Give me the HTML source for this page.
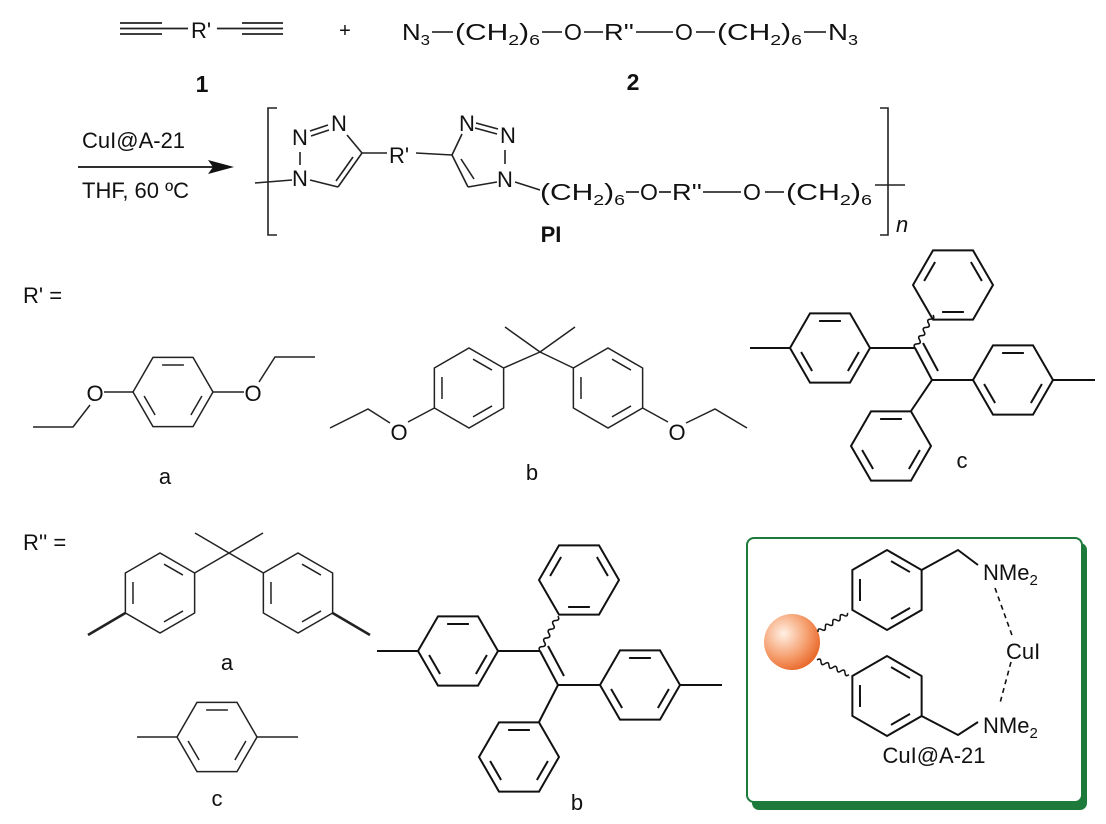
<!DOCTYPE html>
<html><head><meta charset="utf-8"><style>
html,body{margin:0;padding:0;background:#fff;}
svg{display:block;}
text{font-family:"Liberation Sans",sans-serif;fill:#111;}
</style></head><body>
<svg width="1106" height="824" viewBox="0 0 1106 824" xmlns="http://www.w3.org/2000/svg">
<defs>
<g id="hx" fill="none" stroke="#222" stroke-width="1.5">
<polygon points="-40,0 -20,-34.6 20,-34.6 40,0 20,34.6 -20,34.6"/>
<line x1="-10.9" y1="-27" x2="10.9" y2="-27"/>
<line x1="-17.9" y1="23" x2="-28.9" y2="4"/>
<line x1="17.9" y1="23" x2="28.9" y2="4"/>
</g>
<g id="hxb" fill="none" stroke="#111" stroke-width="2">
<polygon points="-40,0 -20,-34.6 20,-34.6 40,0 20,34.6 -20,34.6"/>
<line x1="-10.9" y1="-27" x2="10.9" y2="-27"/>
<line x1="-17.9" y1="23" x2="-28.9" y2="4"/>
<line x1="17.9" y1="23" x2="28.9" y2="4"/>
</g>
<path id="wv" d="M0,0 q2.5,-4 5,0 t5,0 t5,0 t5,0 t5,0 t5,0 t5,0 t5,0" fill="none" stroke="#111" stroke-width="1.6"/>
<radialGradient id="sg" cx="0.35" cy="0.35" r="0.7">
<stop offset="0" stop-color="#fff0e4"/><stop offset="0.6" stop-color="#f6a070"/><stop offset="1" stop-color="#e8682a"/>
</radialGradient>
</defs>

<!-- Row 1 -->
<g stroke="#222" stroke-width="1.8">
<line x1="120" y1="23" x2="162" y2="23"/><line x1="120" y1="28.5" x2="188" y2="28.5"/><line x1="120" y1="34" x2="162" y2="34"/>
<line x1="242" y1="23" x2="283" y2="23"/><line x1="217" y1="28.5" x2="283" y2="28.5"/><line x1="242" y1="34" x2="283" y2="34"/>
</g>
<text x="191" y="38" font-size="22">R'</text>
<text x="345" y="37" font-size="20" text-anchor="middle">+</text>

<g font-size="23">
<text x="402" y="40" textLength="28" lengthAdjust="spacingAndGlyphs">N<tspan font-size="15" dy="5">3</tspan></text>
<text x="455" y="40" textLength="85" lengthAdjust="spacingAndGlyphs">(CH<tspan font-size="15" dy="5">2</tspan><tspan dy="-5">)</tspan><tspan font-size="15" dy="5">6</tspan></text>
<text x="564" y="40">O</text>
<text x="604" y="40" textLength="30" lengthAdjust="spacingAndGlyphs">R''</text>
<text x="675" y="40">O</text>
<text x="717" y="40" textLength="85" lengthAdjust="spacingAndGlyphs">(CH<tspan font-size="15" dy="5">2</tspan><tspan dy="-5">)</tspan><tspan font-size="15" dy="5">6</tspan></text>
<text x="828" y="40" textLength="30" lengthAdjust="spacingAndGlyphs">N<tspan font-size="15" dy="5">3</tspan></text>
</g>
<g stroke="#111" stroke-width="1.6">
<line x1="432" y1="32" x2="453" y2="32"/>
<line x1="542" y1="32" x2="562" y2="32"/>
<line x1="584" y1="32" x2="603" y2="32"/>
<line x1="636" y1="32" x2="673" y2="32"/>
<line x1="696" y1="32" x2="715" y2="32"/>
<line x1="804" y1="32" x2="826" y2="32"/>
</g>
<text x="202" y="92" font-size="23" font-weight="bold" text-anchor="middle">1</text>
<text x="633" y="90" font-size="23" font-weight="bold" text-anchor="middle">2</text>

<!-- Arrow -->
<text x="82" y="148" font-size="22">CuI@A-21</text>
<line x1="78" y1="167" x2="214" y2="167" stroke="#111" stroke-width="1.8"/>
<polygon points="234,167 208,160 213,167 208,174" fill="#111"/>
<text x="82" y="198" font-size="22">THF, 60 ºC</text>

<!-- Polymer -->
<g stroke="#222" stroke-width="1.6" fill="none">
<polyline points="277,108 268,108 268,235 277,235"/>
<polyline points="880,108 888,108 888,235 880,235"/>
<line x1="255" y1="183" x2="292" y2="180"/>
<line x1="875" y1="185" x2="905" y2="185"/>
<line x1="300" y1="152" x2="300" y2="165"/>
<line x1="310" y1="131" x2="328" y2="125"/><line x1="311" y1="136" x2="329" y2="130"/>
<line x1="347" y1="135" x2="362" y2="153"/>
<line x1="362" y1="153" x2="338" y2="187"/><line x1="353" y1="157" x2="336" y2="181"/>
<line x1="338" y1="187" x2="310" y2="180"/>
<line x1="362" y1="153" x2="387" y2="153"/>
<line x1="416" y1="153" x2="452" y2="155"/>
<line x1="452" y1="155" x2="462" y2="134"/>
<line x1="476" y1="123" x2="498" y2="129"/><line x1="475" y1="128" x2="497" y2="134"/>
<line x1="505" y1="150" x2="505" y2="164"/>
<line x1="497" y1="182" x2="468" y2="187"/>
<line x1="468" y1="187" x2="452" y2="155"/><line x1="474" y1="179" x2="461" y2="159"/>
<line x1="515" y1="182" x2="540" y2="190"/>
</g>
<g font-size="22" text-anchor="middle">
<text x="300" y="186">N</text><text x="300" y="145">N</text><text x="339" y="131">N</text>
<text x="467" y="131">N</text><text x="508" y="143">N</text><text x="505" y="187">N</text>
</g>
<text x="389" y="163" font-size="22">R'</text>
<g font-size="23">
<text x="540" y="200" textLength="85" lengthAdjust="spacingAndGlyphs">(CH<tspan font-size="15" dy="5">2</tspan><tspan dy="-5">)</tspan><tspan font-size="15" dy="5">6</tspan></text>
<text x="640" y="200">O</text>
<text x="672" y="200" textLength="30" lengthAdjust="spacingAndGlyphs">R''</text>
<text x="743" y="200">O</text>
<text x="786" y="200" textLength="86" lengthAdjust="spacingAndGlyphs">(CH<tspan font-size="15" dy="5">2</tspan><tspan dy="-5">)</tspan><tspan font-size="15" dy="5">6</tspan></text>
</g>
<g stroke="#111" stroke-width="1.6">
<line x1="626" y1="192" x2="639" y2="192"/>
<line x1="659" y1="192" x2="671" y2="192"/>
<line x1="703" y1="192" x2="741" y2="192"/>
<line x1="765" y1="192" x2="784" y2="192"/>
</g>
<text x="896" y="232" font-size="22" font-style="italic">n</text>
<text x="551" y="242" font-size="22" font-weight="bold" text-anchor="middle">PI</text>

<!-- R' = -->
<text x="23" y="303" font-size="22">R' =</text>
<use href="#hx" transform="translate(173,392)"/>
<g stroke="#222" stroke-width="1.5" fill="none">
<line x1="133" y1="392" x2="104" y2="392"/>
<polyline points="90,405 73,427 33,427"/>
<line x1="213" y1="392" x2="244" y2="392"/>
<polyline points="259,382 275,357 315,357"/>
</g>
<text x="95" y="401" font-size="22" text-anchor="middle">O</text>
<text x="253" y="401" font-size="22" text-anchor="middle">O</text>
<text x="165" y="484" font-size="22" text-anchor="middle">a</text>

<use href="#hx" transform="translate(469,388) rotate(30)"/>
<use href="#hx" transform="translate(608,388) rotate(30)"/>
<g stroke="#222" stroke-width="1.5" fill="none">
<line x1="540" y1="352" x2="505" y2="327"/><line x1="540" y1="352" x2="575" y2="327"/>
<line x1="540" y1="352" x2="503.6" y2="368"/><line x1="540" y1="352" x2="573.4" y2="368"/>
<line x1="434.4" y1="408" x2="408" y2="422"/>
<polyline points="390,423 368,409 330,428"/>
<line x1="642.6" y1="408" x2="668" y2="422"/>
<polyline points="686,423 715,409 747,428"/>
</g>
<text x="399" y="440" font-size="22" text-anchor="middle">O</text>
<text x="677" y="440" font-size="22" text-anchor="middle">O</text>
<text x="532" y="480" font-size="22" text-anchor="middle">b</text>

<use href="#hxb" transform="translate(830,348)"/>
<use href="#hxb" transform="translate(1013,380)"/>
<use href="#hxb" transform="translate(953,285) rotate(180)"/>
<use href="#hxb" transform="translate(891,446)"/>
<g stroke="#111" stroke-width="2" fill="none">
<line x1="750" y1="348" x2="790" y2="348"/>
<line x1="870" y1="348" x2="915" y2="348"/>
<line x1="915" y1="348" x2="932" y2="380"/><line x1="923" y1="343" x2="938" y2="371"/>
<line x1="932" y1="380" x2="973" y2="380"/>
<line x1="1053" y1="380" x2="1095" y2="380"/>
<line x1="932" y1="380" x2="911" y2="411"/>
</g>
<use href="#wv" transform="translate(915,348) rotate(-61.4) scale(0.94,1)"/>
<text x="962" y="468" font-size="22" text-anchor="middle">c</text>

<!-- R'' = -->
<text x="23" y="550" font-size="22">R'' =</text>
<use href="#hx" transform="translate(160,593) rotate(30)"/>
<use href="#hx" transform="translate(298,593) rotate(30)"/>
<g stroke="#222" stroke-width="1.5" fill="none">
<line x1="229" y1="553" x2="195" y2="533"/><line x1="229" y1="553" x2="263" y2="533"/>
<line x1="229" y1="553" x2="194.6" y2="573"/><line x1="229" y1="553" x2="263.4" y2="573"/>
<line x1="125.4" y1="613" x2="88" y2="635" stroke-width="2.6"/>
<line x1="332.6" y1="613" x2="370" y2="635" stroke-width="2.6"/>
</g>
<text x="227" y="670" font-size="22" text-anchor="middle">a</text>
<use href="#hx" transform="translate(217,737)"/>
<g stroke="#222" stroke-width="1.5"><line x1="137" y1="737" x2="177" y2="737"/><line x1="257" y1="737" x2="298" y2="737"/></g>
<text x="217" y="806" font-size="22" text-anchor="middle">c</text>

<use href="#hxb" transform="translate(458,651)"/>
<use href="#hxb" transform="translate(640,685)"/>
<use href="#hxb" transform="translate(579,580) rotate(180)"/>
<use href="#hxb" transform="translate(519,757)"/>
<g stroke="#111" stroke-width="2" fill="none">
<line x1="377" y1="651" x2="418" y2="651"/>
<line x1="498" y1="651" x2="540" y2="651"/>
<line x1="540" y1="651" x2="558" y2="685"/><line x1="548" y1="646" x2="564" y2="676"/>
<line x1="558" y1="685" x2="600" y2="685"/>
<line x1="680" y1="685" x2="722" y2="685"/>
<line x1="558" y1="685" x2="539" y2="722"/>
</g>
<use href="#wv" transform="translate(540,651) rotate(-62.8) scale(0.98,1)"/>
<text x="577" y="810" font-size="22" text-anchor="middle">b</text>

<!-- CuI@A-21 box -->
<rect x="752" y="543" width="335" height="267" rx="7" fill="#1d7a3a"/>
<rect x="747" y="538" width="335" height="264" rx="7" fill="#fff" stroke="#1d7a3a" stroke-width="2"/>
<circle cx="792" cy="642" r="28" fill="url(#sg)"/>
<use href="#hxb" transform="translate(887,590) rotate(30)"/>
<use href="#hxb" transform="translate(887,696) rotate(30)"/>
<use href="#wv" transform="translate(818,632) rotate(-32.9) scale(0.88,1)"/>
<use href="#wv" transform="translate(817,660) rotate(24.6) scale(0.88,1)"/>
<g stroke="#111" stroke-width="2" fill="none">
<polyline points="921.6,570 958,550 978,565"/>
<polyline points="921.6,716 958,735 978,722"/>
<g stroke-dasharray="5,4" stroke-width="1.6">
<line x1="995" y1="588" x2="1013" y2="638"/>
<line x1="1011" y1="662" x2="1000" y2="703"/>
</g>
</g>
<text x="983" y="580" font-size="22">NMe<tspan font-size="15" dy="5">2</tspan></text>
<text x="983" y="733" font-size="22">NMe<tspan font-size="15" dy="5">2</tspan></text>
<text x="1006" y="659" font-size="22">CuI</text>
<text x="934" y="763" font-size="22" text-anchor="middle">CuI@A-21</text>
</svg>
</body></html>
